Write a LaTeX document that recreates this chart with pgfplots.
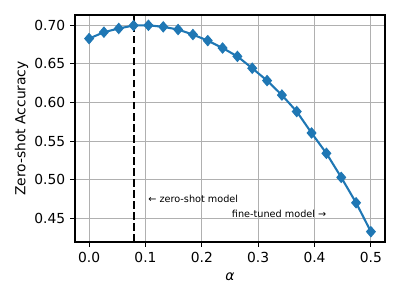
\documentclass[border=0pt]{standalone}
\usepackage{pgfplots}
\pgfplotsset{compat=1.18}
\usepackage{fontspec}
\setmainfont{DejaVu Sans}
\definecolor{mplblue}{HTML}{1F77B4}
\definecolor{mplgrid}{HTML}{B0B0B0}
\begin{document}
\begin{tikzpicture}
\useasboundingbox (-54bp,-41.76bp) rectangle (234bp,174.24bp);
\begin{axis}[
  at={(0,0)}, anchor=south west,
  scale only axis,
  width=223.2bp, height=163.44bp,
  xmin=-0.025, xmax=0.525,
  ymin=0.4197, ymax=0.7131,
  xtick={0,0.1,0.2,0.3,0.4,0.5},
  ytick={0.45,0.5,0.55,0.6,0.65,0.7},
  grid=major,
  major grid style={mplgrid, line width=0.8bp},
  axis line style={line width=0.8bp},
  tick style={black, line width=0.8bp},
  tick align=outside,
  major tick length=3.5bp,
  xtick pos=bottom, ytick pos=left,
  /pgf/number format/assume math mode=true,
  xticklabel style={/pgf/number format/.cd, fixed, fixed zerofill, precision=1},
  yticklabel style={/pgf/number format/.cd, fixed, fixed zerofill, precision=2},
  tick label style={font=\fontsize{10}{12}\selectfont},
  label style={font=\fontsize{10}{12}\selectfont},
  xlabel={\textit{α}},
  ylabel={Zero-shot Accuracy},
  xlabel style={at={(axis description cs:0.5,-0.154)}, anchor=center},
  ylabel style={at={(axis description cs:-0.1725,0.5)}, anchor=center, rotate=0},
]
\addplot[black, line width=1.5bp, dash pattern=on 5.55bp off 2.4bp, forget plot]
  coordinates {(0.078947,0.4197) (0.078947,0.7131)};
\addplot[mplblue, line width=1.5bp, mark=diamond*,
  mark options={mplblue, solid, xscale=1.15, line width=0.8bp}, mark size=3.6bp]
  coordinates {
  (0.000000,0.6826) (0.026316,0.6909) (0.052632,0.6957) (0.078947,0.6995)
  (0.105263,0.6998) (0.131579,0.6978) (0.157895,0.6943) (0.184211,0.6878)
  (0.210526,0.6800) (0.236842,0.6704) (0.263158,0.6596) (0.289474,0.6443)
  (0.315789,0.6283) (0.342105,0.6096) (0.368421,0.5883) (0.394737,0.5606)
  (0.421053,0.5343) (0.447368,0.5032) (0.473684,0.4704) (0.500000,0.4330)
  };
\node[anchor=west, inner sep=0pt, font=\fontsize{7}{8}\selectfont] at (axis cs:0.1047,0.4756) {← zero-shot model};
\node[anchor=east, inner sep=0pt, font=\fontsize{7}{8}\selectfont] at (axis cs:0.4213,0.4555) {fine-tuned model →};
\end{axis}
\end{tikzpicture}
\end{document}
